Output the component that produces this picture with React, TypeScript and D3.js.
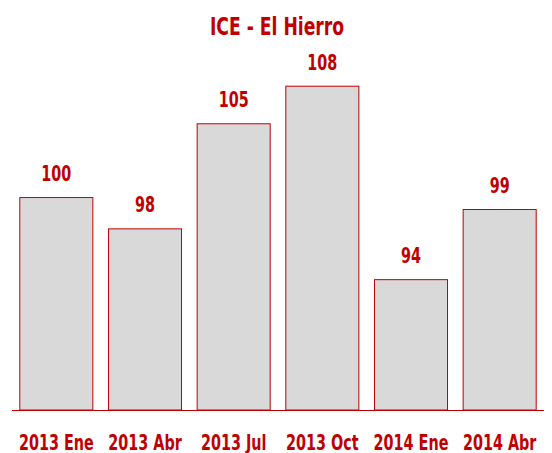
import React from "react";
import * as d3 from "d3";

const categories = ["2013 Ene", "2013 Abr", "2013 Jul", "2013 Oct", "2014 Ene", "2014 Abr"];
const values = [100.0, 97.75, 105.3, 108.0, 94.1, 99.14];
const title = "ICE - El Hierro";

const W = 552;
const H = 453;
const RED = "#C00000";
const FONT = "'DejaVu Sans Condensed', 'DejaVu Sans', sans-serif";
const SX = 0.78;

function NarrowText({ x, y, size, children }: { x: number; y: number; size: number; children: React.ReactNode }) {
  return (
    <text transform={`translate(${x},${y}) scale(${SX},1)`} textAnchor="middle" fontFamily={FONT}
      fontWeight="bold" fontSize={size} fill={RED}>{children}</text>
  );
}

export default function App() {
  const x = d3.scaleBand<string>().domain(categories).range([12, 544]).paddingInner(0.165).paddingOuter(0.0825);
  const y = d3.scaleLinear().domain([84.7, 108]).range([410, 85.7]);
  const fmt = d3.format(".0f");
  return (
    <svg width={W} height={H} style={{ position: "absolute", left: 0, top: 0, background: "#fff" }}>
      <NarrowText x={277} y={35} size={24.5}>{title}</NarrowText>
      {categories.map((c, i) => (
        <g key={c}>
          <rect x={x(c)! + 0.5} y={y(values[i]) + 0.5} width={x.bandwidth() - 1} height={y.range()[0] - y(values[i]) - 0.5}
            fill="#D9D9D9" stroke={RED} strokeWidth={1} />
          <NarrowText x={x(c)! + x.bandwidth() / 2} y={y(values[i]) - 16} size={20.5}>{fmt(values[i])}</NarrowText>
          <NarrowText x={x(c)! + x.bandwidth() / 2} y={450} size={20.5}>{c}</NarrowText>
        </g>
      ))}
      <line x1={12} x2={544} y1={410.5} y2={410.5} stroke={RED} strokeWidth={1} />
    </svg>
  );
}
